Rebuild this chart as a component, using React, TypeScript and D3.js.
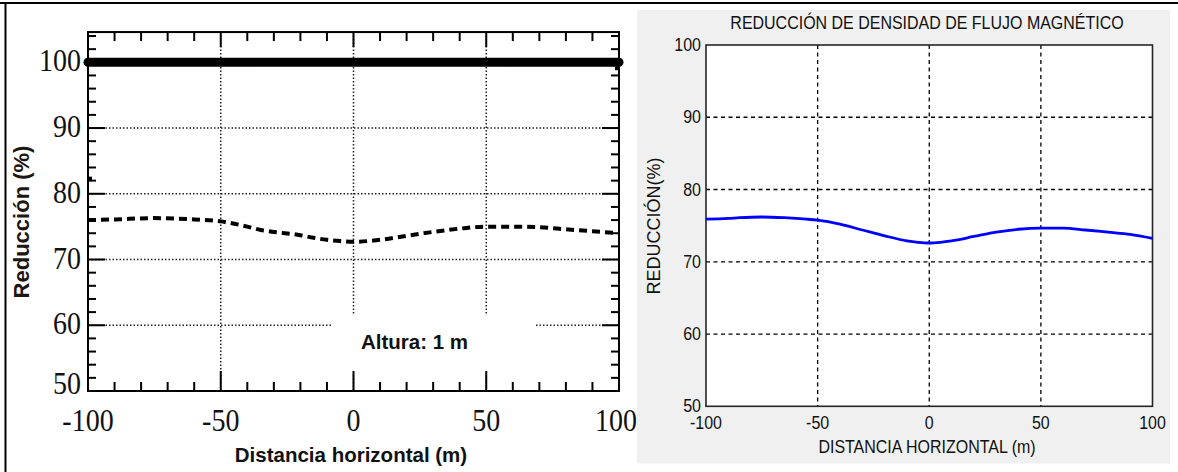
import React from 'react';
import * as d3 from 'd3';

// Left panel (scanned figure): dashed reduction curve, "Altura: 1 m"
const distLeft = [-100, -90, -75, -60, -50, -40, -35, -30, -20, -15, -10, -5, 0, 10, 20, 30, 40, 50, 60, 70, 80, 90, 100];
const reducLeft = [76.0, 76.1, 76.3, 76.1, 75.8, 75.0, 74.5, 74.2, 73.7, 73.3, 73.0, 72.8, 72.7, 73.0, 73.6, 74.2, 74.7, 75.0, 75.0, 74.9, 74.6, 74.3, 74.0];
const refLine = [-100, 100]; // 100 % reference
const scanMarks = [
  { x0: -100, x1: -98.5, y: 82.3 },
  { x0: 98.5, x1: 100, y: 99.1 },
];

// Right panel (MATLAB figure): blue reduction curve
const distRight = [-100, -90, -85, -75, -65, -55, -50, -40, -30, -20, -10, -5, 0, 5, 10, 20, 30, 40, 50, 60, 70, 80, 90, 100];
const reducRight = [75.9, 76.0, 76.1, 76.2, 76.1, 75.9, 75.75, 75.2, 74.4, 73.6, 72.9, 72.7, 72.6, 72.7, 72.9, 73.5, 74.1, 74.5, 74.65, 74.65, 74.4, 74.1, 73.8, 73.25];

const xTickLabels = [-100, -50, 0, 50, 100];
const yTickLabels = [50, 60, 70, 80, 90, 100];

const SERIF = '"Liberation Serif", "Times New Roman", serif';
const SANS = '"Liberation Sans", Arial, sans-serif';

const LeftChart = () => {
  const x = d3.scaleLinear().domain([-100, 100]).range([88, 619]);
  const y = d3.scaleLinear().domain([50, 100]).range([391, 62.3]);
  const yTop = 104.6;

  const line = d3.line<number>()
    .x((_, i) => x(distLeft[i]))
    .y(d => y(d))
    .curve(d3.curveMonotoneX);

  const minorX = d3.range(-90, 100, 10);
  const minorY = d3.range(52, 105, 2);
  const dotted = { stroke: '#222', strokeWidth: 1.5, strokeDasharray: '1.5,2' };

  return (
    <g>
      {/* grid */}
      {[90, 80, 70, 60].map(v => (
        <line key={'gy' + v} x1={x(-100)} x2={x(100)} y1={y(v)} y2={y(v)} {...dotted} />
      ))}
      {[-50, 0, 50].map(v => (
        <line key={'gx' + v} x1={x(v)} x2={x(v)} y1={y(yTop)} y2={y(50)} {...dotted} />
      ))}
      {/* cleared area behind annotation */}
      <rect x={x(-8)} y={y(61.5)} width={x(68) - x(-8)} height={y(52.6) - y(61.5)} fill="#fff" />

      {/* ticks */}
      {minorX.map(v => {
        const major = v % 50 === 0;
        return (
          <g key={'tx' + v} stroke="#000" strokeWidth={2}>
            <line x1={x(v)} x2={x(v)} y1={y(50)} y2={y(50) - (major ? 20 : 9)} />
            <line x1={x(v)} x2={x(v)} y1={y(yTop)} y2={y(yTop) + (major ? 15 : 9)} />
          </g>
        );
      })}
      {minorY.map(v => {
        const major = v % 10 === 0;
        return (
          <g key={'ty' + v} stroke="#000" strokeWidth={2}>
            <line x1={x(-100)} x2={x(-100) + (major ? 17 : 8)} y1={y(v)} y2={y(v)} />
            <line x1={x(100)} x2={x(100) - (major ? 17 : 8)} y1={y(v)} y2={y(v)} />
          </g>
        );
      })}

      {/* frame */}
      <rect x={x(-100)} y={y(yTop)} width={x(100) - x(-100)} height={y(50) - y(yTop)} fill="none" stroke="#000" strokeWidth={2} />

      {/* 100 % reference */}
      <line x1={x(refLine[0])} x2={x(refLine[1])} y1={y(100)} y2={y(100)} stroke="#000" strokeWidth={9} strokeLinecap="round" />
      {scanMarks.map((m, i) => (
        <line key={'sm' + i} x1={x(m.x0)} x2={x(m.x1)} y1={y(m.y)} y2={y(m.y)} stroke="#000" strokeWidth={4} />
      ))}

      {/* curve */}
      <path d={line(reducLeft) || ''} fill="none" stroke="#000" strokeWidth={4} strokeDasharray="8,5" />

      {/* tick labels (scan looks vertically stretched) */}
      {yTickLabels.map(v => (
        <text key={'ly' + v} transform={`translate(81,${y(v) + (v === 50 ? 3 : 9)}) scale(1,1.1)`} textAnchor="end" fontFamily={SERIF} fontSize={28} fill="#111">{v}</text>
      ))}
      {xTickLabels.map(v => (
        <text key={'lx' + v} transform={`translate(${x(v) - (v === 100 ? 3 : 0)},431) scale(1,1.1)`} textAnchor="middle" fontFamily={SERIF} fontSize={28} fill="#111">{v}</text>
      ))}

      <text x={361} y={349} fontFamily={SANS} fontWeight="bold" fontSize={20.5} fill="#111">Altura: 1 m</text>
      <text x={351} y={462} textAnchor="middle" fontFamily={SANS} fontWeight="bold" fontSize={20.5} fill="#111">Distancia horizontal (m)</text>
      <text transform="translate(29,222) rotate(-90)" textAnchor="middle" fontFamily={SANS} fontWeight="bold" fontSize={22} fill="#1c1712">Reducción (%)</text>
    </g>
  );
};

const RightChart = () => {
  const x = d3.scaleLinear().domain([-100, 100]).range([706, 1152.5]);
  const y = d3.scaleLinear().domain([50, 100]).range([406.3, 45]);

  const line = d3.line<number>()
    .x((_, i) => x(distRight[i]))
    .y(d => y(d))
    .curve(d3.curveMonotoneX);

  const dashed = { stroke: '#000', strokeWidth: 1.3, strokeDasharray: '4,3.5' };

  return (
    <g>
      <rect x={637} y={10} width={533} height={453.5} fill="#f0f0f0" />
      <rect x={x(-100)} y={y(100)} width={x(100) - x(-100)} height={y(50) - y(100)} fill="#fff" />
      {[60, 70, 80, 90].map(v => (
        <line key={'gy' + v} x1={x(-100)} x2={x(100)} y1={y(v)} y2={y(v)} {...dashed} />
      ))}
      {[-50, 0, 50].map(v => (
        <line key={'gx' + v} x1={x(v)} x2={x(v)} y1={y(100)} y2={y(50)} {...dashed} />
      ))}
      <rect x={x(-100)} y={y(100)} width={x(100) - x(-100)} height={y(50) - y(100)} fill="none" stroke="#262626" strokeWidth={1.6} />

      <path d={line(reducRight) || ''} fill="none" stroke="#0000ff" strokeWidth={2.8} />

      {yTickLabels.map(v => (
        <text key={'ry' + v} transform={`translate(${x(-100) - 5},${y(v) + 6}) scale(1,1.1)`} textAnchor="end" fontFamily={SANS} fontSize={16} fill="#111">{v}</text>
      ))}
      {xTickLabels.map(v => (
        <text key={'rx' + v} transform={`translate(${x(v)},429) scale(1,1.1)`} textAnchor="middle" fontFamily={SANS} fontSize={16} fill="#111">{v}</text>
      ))}

      <text transform="translate(927,28.5) scale(1,1.1)" textAnchor="middle" fontFamily={SANS} fontSize={16} fill="#111">REDUCCIÓN DE DENSIDAD DE FLUJO MAGNÉTICO</text>
      <text transform="translate(927,453) scale(1,1.1)" textAnchor="middle" fontFamily={SANS} fontSize={16} fill="#111">DISTANCIA HORIZONTAL (m)</text>
      <text transform="translate(660,226) rotate(-90)" textAnchor="middle" fontFamily={SANS} fontSize={18} fill="#111">REDUCCIÓN(%)</text>
    </g>
  );
};

export default function App() {
  return (
    <svg width={1178} height={472} style={{ position: 'absolute', left: 0, top: 0, background: '#fff' }}>
      <line x1={0} x2={1178} y1={3} y2={3} stroke="#000" strokeWidth={2} />
      <line x1={5.5} x2={5.5} y1={3} y2={472} stroke="#000" strokeWidth={2} />
      <LeftChart />
      <RightChart />
    </svg>
  );
}
